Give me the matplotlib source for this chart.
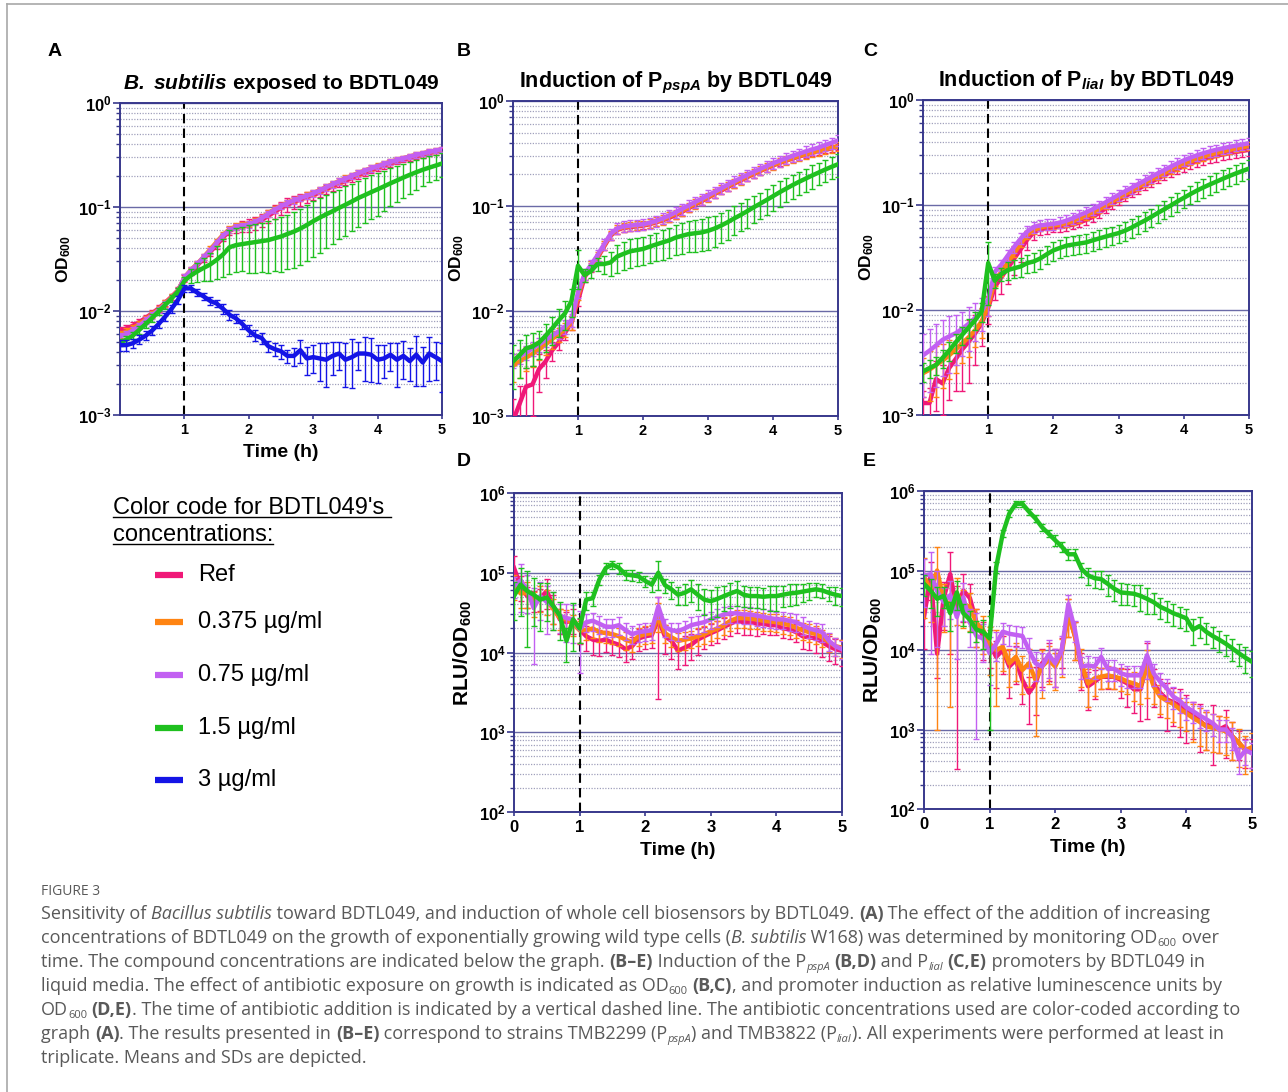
import numpy as np
import matplotlib
matplotlib.use('Agg')
import matplotlib.pyplot as plt
from matplotlib.ticker import LogLocator, FuncFormatter, NullFormatter
from matplotlib.lines import Line2D

plt.rcParams['font.family'] = ['Liberation Sans', 'DejaVu Sans']
plt.rcParams['mathtext.fontset'] = 'custom'
plt.rcParams['mathtext.rm'] = 'Liberation Sans'
plt.rcParams['mathtext.bf'] = 'Liberation Sans:bold'
plt.rcParams['mathtext.it'] = 'Liberation Sans:italic'
plt.rcParams['mathtext.bfit'] = 'Liberation Sans:bold:italic'
plt.rcParams['mathtext.sf'] = 'Liberation Sans'

# ---------------- data ----------------
time_h = np.linspace(0, 5, 51)

concentrations = ['Ref', '0.375 µg/ml', '0.75 µg/ml', '1.5 µg/ml', '3 µg/ml']
colors = ['#f01878', '#ff8412', '#c260f2', '#1fc01f', '#1414e6']

# Panel A: OD600, B. subtilis W168
A_ref = [.0065,.0068,.0072,.0078,.0086,.0095,.0106,.0120,.0137,.0158,
         .0205,.0240,.0275,.0320,.0370,.0430,.0510,.0590,.0630,.0650,
         .0670,.0700,.0750,.0820,.0900,.0980,.1050,.1120,.1180,.1240,
         .130,.138,.148,.158,.168,.178,.190,.202,.214,.226,
         .238,.250,.262,.274,.285,.296,.307,.318,.329,.340,.350]
A_ref_sd = [.08,.08,.08,.07,.07,.07,.07,.07,.07,.07,
            .08,.08,.08,.08,.08,.08,.08,.08,.10,.12,
            .15,.15,.15,.15,.15,.15,.15,.14,.13,.12,
            .10,.10,.09,.09,.08,.08,.08,.08,.07,.07,
            .07,.07,.07,.06,.06,.06,.06,.06,.06,.06,.06]
A_c0375 = [.0060,.0063,.0068,.0075,.0083,.0093,.0104,.0118,.0135,.0156,
           .0210,.0248,.0285,.0330,.0390,.0460,.0540,.0610,.0650,.0670,
           .0690,.0730,.0790,.0870,.0950,.1030,.1100,.1170,.1230,.1290,
           .136,.145,.155,.166,.177,.188,.200,.212,.224,.236,
           .248,.260,.272,.284,.295,.306,.317,.328,.338,.348,.358]
A_c0375_sd = [.08,.08,.08,.07,.07,.07,.07,.07,.07,.07,
              .07,.07,.07,.07,.07,.07,.07,.07,.07,.07,
              .07,.07,.07,.07,.07,.07,.07,.07,.07,.07,
              .07,.07,.07,.07,.07,.07,.07,.07,.07,.07,
              .06,.06,.06,.06,.06,.06,.06,.06,.06,.06,.06]
A_c075 = [.0057,.0060,.0065,.0072,.0081,.0091,.0102,.0116,.0133,.0155,
          .0210,.0245,.0282,.0330,.0380,.0450,.0530,.0600,.0640,.0660,
          .0680,.0720,.0780,.0860,.0940,.1020,.1090,.1160,.1220,.1280,
          .135,.144,.154,.165,.176,.187,.199,.211,.223,.235,
          .247,.259,.271,.283,.294,.305,.316,.327,.338,.348,.360]
A_c075_sd = [.08,.08,.08,.07,.07,.07,.07,.07,.07,.07,
             .07,.07,.07,.07,.07,.07,.07,.07,.07,.07,
             .07,.07,.07,.07,.07,.07,.07,.07,.07,.07,
             .07,.07,.07,.07,.07,.07,.07,.07,.07,.07,
             .06,.06,.06,.06,.06,.06,.06,.06,.06,.06,.06]
A_c15 = [.0050,.0053,.0058,.0066,.0075,.0086,.0099,.0114,.0132,.0154,
         .0195,.0220,.0240,.0260,.0280,.0310,.0350,.0410,.0430,.0440,
         .0450,.0460,.0470,.0480,.0500,.0520,.0550,.0580,.0620,.0670,
         .073,.079,.085,.091,.098,.105,.113,.122,.130,.139,
         .148,.158,.169,.180,.192,.204,.216,.228,.239,.250,.262]
A_c15_sd = [.08,.08,.08,.08,.08,.08,.08,.08,.08,.08,
            .10,.15,.20,.25,.30,.35,.40,.45,.45,.45,
            .48,.50,.50,.52,.52,.54,.54,.55,.55,.55,
            .55,.54,.53,.52,.50,.50,.48,.47,.46,.45,
            .45,.42,.40,.38,.36,.34,.32,.30,.28,.27,.26]
A_c3 = [.0047,.0047,.0049,.0053,.0058,.0065,.0075,.0088,.0105,.0128,
        .0165,.0165,.0150,.0138,.0125,.0118,.0105,.0092,.0085,.0075,
        .0065,.0058,.0055,.0046,.0043,.0041,.0037,.0037,.0042,.0035,
        .0036,.0035,.0034,.0037,.0039,.0034,.0036,.0039,.0039,.0038,
        .0034,.0035,.0038,.0034,.0037,.0033,.0038,.0032,.0039,.0036,.0033]
A_c3_sd = [.12,.12,.10,.10,.10,.10,.08,.08,.08,.08,
           .08,.08,.08,.08,.08,.08,.10,.10,.10,.10,
           .12,.12,.12,.12,.15,.15,.15,.20,.25,.30,
           .30,.40,.45,.35,.30,.45,.50,.30,.45,.45,
           .40,.35,.30,.45,.40,.35,.50,.40,.45,.40,.50]

# Panel B: OD600, P_pspA reporter strain
B_ref = [.0009,.0013,.0019,.0020,.0028,.0033,.0042,.0050,.0062,.0078,
         .0125,.0210,.0260,.0320,.0410,.0520,.0590,.0620,.0630,.0640,
         .0650,.0670,.0700,.0730,.0770,.0820,.0880,.0950,.1030,.1110,
         .120,.130,.140,.151,.163,.175,.188,.201,.215,.229,
         .243,.257,.270,.283,.296,.308,.320,.332,.343,.354,.365]
B_ref_sd = [.60,.50,.50,.50,.40,.30,.20,.15,.15,.15,
            .10,.10,.10,.08,.08,.08,.08,.08,.08,.08,
            .08,.08,.08,.08,.08,.08,.08,.08,.08,.08,
            .08,.08,.08,.08,.08,.08,.08,.08,.08,.08,
            .07,.07,.07,.07,.07,.07,.07,.07,.07,.07,.07]
B_c0375 = [.0030,.0033,.0036,.0039,.0043,.0048,.0054,.0060,.0067,.0078,
           .0140,.0220,.0270,.0330,.0420,.0530,.0600,.0630,.0640,.0650,
           .0660,.0680,.0710,.0740,.0790,.0840,.0900,.0970,.1050,.1130,
           .122,.132,.143,.154,.166,.178,.191,.204,.218,.232,
           .246,.260,.273,.286,.299,.311,.323,.335,.347,.358,.370]
B_c0375_sd = [.30,.30,.25,.25,.20,.20,.20,.15,.15,.15,
              .10,.10,.10,.10,.10,.10,.10,.10,.10,.10,
              .10,.10,.10,.10,.10,.10,.10,.10,.10,.10,
              .10,.10,.10,.10,.10,.10,.10,.10,.10,.10,
              .10,.10,.10,.10,.10,.10,.10,.10,.10,.10,.10]
B_c075 = [.0034,.0037,.0040,.0044,.0048,.0053,.0058,.0064,.0071,.0082,
          .0150,.0225,.0275,.0340,.0430,.0540,.0610,.0640,.0650,.0660,
          .0670,.0690,.0720,.0760,.0810,.0870,.0940,.1010,.1090,.1170,
          .126,.136,.147,.159,.171,.184,.197,.211,.225,.240,
          .255,.270,.285,.300,.315,.330,.345,.360,.380,.400,.420]
B_c075_sd = [.15,.15,.15,.15,.15,.15,.15,.15,.15,.15,
             .12,.12,.12,.12,.12,.12,.12,.12,.12,.12,
             .12,.12,.12,.12,.12,.12,.12,.12,.12,.12,
             .12,.12,.12,.12,.12,.12,.12,.12,.12,.12,
             .12,.12,.12,.12,.12,.12,.12,.12,.12,.12,.12]
B_c15 = [.0033,.0038,.0044,.0046,.0050,.0058,.0068,.0081,.0095,.0125,
         .0270,.0220,.0240,.0280,.0280,.0290,.0330,.0350,.0370,.0380,
         .0390,.0410,.0430,.0450,.0470,.0500,.0520,.0540,.0550,.0560,
         .058,.061,.065,.070,.076,.082,.089,.097,.105,.114,
         .124,.135,.146,.158,.170,.182,.195,.208,.222,.236,.250]
B_c15_sd = [.45,.40,.35,.35,.30,.30,.30,.30,.30,.30,
            .40,.15,.15,.15,.20,.25,.30,.30,.30,.30,
            .30,.30,.30,.32,.32,.32,.33,.33,.34,.34,
            .34,.33,.32,.32,.31,.30,.30,.29,.28,.28,
            .27,.27,.26,.26,.25,.25,.25,.24,.24,.24,.24]

# Panel C: OD600, P_liaI reporter strain
C_ref = [.0013,.0013,.0022,.0020,.0028,.0034,.0042,.0050,.0060,.0075,
         .0105,.0165,.0205,.0250,.0310,.0380,.0470,.0550,.0590,.0600,
         .0610,.0620,.0630,.0650,.0680,.0720,.0770,.0840,.0930,.1020,
         .112,.121,.131,.142,.154,.166,.179,.192,.206,.220,
         .234,.248,.261,.273,.284,.294,.303,.312,.320,.328,.335]
C_ref_sd = [.30,.40,.50,.50,.50,.50,.60,.60,.50,.40,
            .30,.25,.30,.30,.30,.25,.20,.15,.12,.12,
            .10,.10,.10,.10,.10,.10,.10,.10,.10,.10,
            .10,.10,.10,.10,.10,.10,.10,.10,.10,.10,
            .12,.12,.12,.12,.12,.12,.12,.12,.12,.12,.12]
C_c0375 = [.0025,.0027,.0030,.0033,.0037,.0042,.0048,.0055,.0064,.0078,
           .0110,.0190,.0230,.0280,.0350,.0430,.0520,.0580,.0610,.0630,
           .0640,.0650,.0670,.0700,.0740,.0780,.0840,.0910,.0990,.1080,
           .117,.127,.137,.149,.161,.174,.187,.201,.215,.230,
           .245,.260,.274,.288,.301,.313,.324,.335,.345,.355,.365]
C_c0375_sd = [.40,.50,.50,.45,.40,.40,.35,.35,.30,.30,
              .20,.10,.08,.08,.08,.08,.08,.08,.08,.08,
              .08,.08,.08,.08,.08,.08,.08,.08,.08,.08,
              .08,.08,.08,.08,.08,.08,.08,.08,.08,.08,
              .08,.08,.08,.08,.08,.08,.08,.08,.08,.08,.08]
C_c075 = [.0037,.0041,.0046,.0052,.0056,.0060,.0066,.0074,.0084,.0097,
          .0125,.0230,.0270,.0330,.0400,.0480,.0560,.0620,.0640,.0650,
          .0660,.0680,.0710,.0750,.0800,.0850,.0910,.0980,.1060,.1150,
          .125,.135,.146,.158,.171,.185,.200,.215,.232,.249,
          .266,.282,.297,.311,.324,.336,.347,.358,.368,.378,.388]
C_c075_sd = [.60,.60,.60,.55,.55,.50,.45,.45,.40,.35,
             .30,.12,.12,.12,.12,.12,.12,.12,.12,.12,
             .12,.12,.12,.12,.12,.12,.12,.12,.12,.12,
             .12,.12,.12,.12,.12,.12,.12,.12,.12,.12,
             .12,.12,.12,.12,.12,.12,.12,.12,.12,.12,.12]
C_c15 = [.0026,.0028,.0030,.0035,.0041,.0049,.0058,.0068,.0080,.0097,
         .0280,.0190,.0220,.0240,.0250,.0260,.0280,.0290,.0310,.0340,
         .0370,.0390,.0410,.0420,.0430,.0440,.0460,.0480,.0500,.0520,
         .054,.057,.061,.066,.071,.077,.084,.091,.099,.108,
         .117,.127,.137,.147,.157,.167,.178,.189,.200,.211,.222]
C_c15_sd = [.20,.20,.20,.20,.20,.20,.20,.20,.20,.20,
            .60,.15,.15,.20,.20,.20,.20,.20,.20,.20,
            .20,.20,.20,.20,.20,.20,.20,.20,.20,.20,
            .20,.20,.20,.20,.20,.20,.20,.20,.20,.20,
            .20,.20,.20,.20,.20,.20,.20,.20,.20,.20,.20]

# Panel D: RLU/OD600, P_pspA
D_ref = [1.15e5,6.8e4,5.1e4,4.6e4,4.8e4,5.9e4,3.8e4,2.6e4,2.4e4,2.6e4,
         1.95e4,1.6e4,1.45e4,1.4e4,1.45e4,1.33e4,1.25e4,1.1e4,1.2e4,1.5e4,
         1.6e4,1.65e4,2.6e4,1.6e4,1.4e4,1.05e4,1.15e4,1.25e4,1.45e4,1.6e4,
         1.75e4,1.9e4,2.1e4,2.3e4,2.5e4,2.4e4,2.4e4,2.3e4,2.3e4,2.2e4,
         2.2e4,2.0e4,1.95e4,1.8e4,1.6e4,1.55e4,1.5e4,1.35e4,1.2e4,1.1e4,1.05e4]
D_ref_sd = [.40,.35,.30,.30,.30,.40,.40,.35,.35,.35,
            .35,.35,.35,.35,.30,.30,.30,.30,.30,.30,
            .30,.30,.90,.40,.40,.40,.40,.35,.35,.30,
            .30,.30,.30,.30,.30,.30,.30,.30,.25,.25,
            .25,.25,.25,.25,.30,.30,.35,.35,.35,.35,.35]
D_c0375 = [7.0e4,5.5e4,5.6e4,4.3e4,5.0e4,4.5e4,3.5e4,2.7e4,2.6e4,2.3e4,
           1.9e4,1.9e4,2.0e4,1.8e4,1.75e4,1.7e4,1.6e4,1.45e4,1.35e4,1.6e4,
           1.7e4,1.75e4,3.0e4,1.75e4,1.55e4,1.4e4,1.45e4,1.5e4,1.6e4,1.7e4,
           1.85e4,2.0e4,2.2e4,2.5e4,2.7e4,2.7e4,2.65e4,2.6e4,2.5e4,2.45e4,
           2.4e4,2.3e4,2.2e4,2.05e4,1.9e4,1.8e4,1.7e4,1.55e4,1.35e4,1.2e4,1.15e4]
D_c0375_sd = [.35,.35,.35,.35,.35,.35,.35,.30,.30,.30,
              .30,.25,.25,.25,.25,.25,.25,.25,.25,.25,
              .25,.25,.40,.25,.25,.25,.25,.25,.25,.25,
              .25,.25,.25,.25,.25,.25,.25,.25,.25,.25,
              .25,.25,.25,.25,.25,.25,.25,.25,.25,.25,.25]
D_c075 = [6.8e4,8.0e4,6.2e4,3.6e4,5.1e4,4.3e4,3.8e4,2.9e4,2.7e4,2.6e4,
          1.95e4,2.4e4,2.5e4,2.3e4,2.1e4,2.1e4,2.2e4,1.9e4,1.7e4,1.8e4,
          1.85e4,1.9e4,3.8e4,2.1e4,1.9e4,1.85e4,2.0e4,2.2e4,2.3e4,2.4e4,
          2.6e4,2.8e4,3.0e4,3.1e4,3.1e4,3.0e4,3.0e4,2.9e4,2.8e4,2.7e4,
          2.6e4,2.6e4,2.5e4,2.4e4,2.2e4,2.0e4,1.9e4,1.8e4,1.4e4,1.2e4,1.1e4]
D_c075_sd = [.30,.60,.50,.80,.50,.60,.50,.40,.50,.50,
             .72,.25,.25,.25,.25,.25,.25,.25,.25,.25,
             .25,.25,.30,.25,.25,.25,.25,.25,.25,.25,
             .25,.25,.25,.25,.25,.25,.25,.25,.25,.25,
             .25,.25,.25,.25,.25,.25,.25,.25,.25,.25,.25]
D_c15 = [5.1e4,7.1e4,5.9e4,5.3e4,4.6e4,4.9e4,3.8e4,2.9e4,1.4e4,2.6e4,
         2.0e4,4.6e4,4.8e4,8.2e4,1.15e5,1.27e5,1.15e5,9.5e4,9.3e4,9.0e4,
         7.9e4,7.1e4,1.0e5,7.0e4,6.2e4,5.3e4,5.6e4,6.2e4,5.3e4,4.6e4,
         4.4e4,4.7e4,5.1e4,5.5e4,5.9e4,5.3e4,5.1e4,5.1e4,5.0e4,5.1e4,
         5.1e4,5.3e4,5.5e4,5.6e4,5.8e4,6.0e4,6.2e4,6.0e4,5.6e4,5.3e4,5.1e4]
D_c15_sd = [.50,.60,.80,.60,.60,.50,.50,.50,.45,.60,
            .35,.25,.20,.15,.15,.12,.15,.15,.15,.15,
            .15,.20,.40,.20,.25,.25,.30,.30,.35,.35,
            .40,.40,.35,.35,.35,.30,.30,.30,.30,.35,
            .35,.30,.30,.30,.25,.25,.20,.20,.20,.25,.25]

# Panel E: RLU/OD600, P_liaI
E_ref = [2.6e4,8.5e4,9.0e3,4.5e4,9.0e4,3.2e4,5.6e4,4.5e4,2.2e4,1.5e4,
         1.2e4,8.2e3,1.0e4,6.2e3,7.5e3,4.2e3,2.9e3,3.8e3,6.8e3,8.2e3,
         6.8e3,1.0e4,2.9e4,1.5e4,6.2e3,3.5e3,4.0e3,4.6e3,4.6e3,4.6e3,
         4.2e3,3.8e3,3.2e3,3.2e3,6.8e3,3.8e3,2.9e3,2.4e3,2.2e3,2.0e3,
         1.7e3,1.5e3,1.3e3,1.1e3,1.2e3,1.0e3,1.1e3,8.2e2,6.8e2,5.5e2,5.5e2]
E_ref_sd = [.60,.50,.50,.60,.90,.99,.60,.50,.50,.50,
            .50,.60,.50,.60,.50,.50,.60,.60,.50,.50,
            .50,.40,.50,.50,.50,.50,.40,.30,.30,.30,
            .40,.50,.50,.60,.80,.50,.50,.60,.50,.60,
            .60,.50,.60,.50,.70,.50,.60,.50,.40,.40,.40]
E_c0375 = [8.5e4,5.6e4,1.0e5,4.2e4,3.8e4,5.1e4,3.8e4,3.5e4,2.2e4,1.8e4,
           1.2e4,1.0e4,1.1e4,6.8e3,8.2e3,5.6e3,6.8e3,4.2e3,6.2e3,7.5e3,
           6.2e3,9.1e3,2.9e4,1.5e4,6.8e3,3.8e3,4.4e3,4.6e3,4.8e3,4.6e3,
           4.4e3,4.0e3,3.8e3,3.5e3,6.2e3,3.5e3,2.6e3,2.3e3,2.1e3,1.8e3,
           1.6e3,1.4e3,1.25e3,1.1e3,1.05e3,1.0e3,9.5e2,8.2e2,6.8e2,5.5e2,6.0e2]
E_c0375_sd = [.70,.60,.99,.60,.95,.60,.50,.50,.50,.50,
              .60,.80,.50,.50,.50,.50,.50,.80,.60,.50,
              .50,.50,.50,.50,.50,.50,.40,.30,.30,.30,
              .30,.30,.40,.40,.60,.40,.40,.40,.40,.40,
              .40,.50,.50,.50,.50,.50,.50,.50,.50,.50,.50]
E_c075 = [8.6e4,9.0e4,5.5e4,4.0e4,4.9e4,2.6e4,4.6e4,2.2e4,1.5e4,1.4e4,
          9.1e3,1.2e4,1.7e4,1.6e4,1.55e4,1.5e4,1.0e4,6.8e3,6.2e3,8.8e3,
          6.8e3,1.0e4,3.8e4,1.8e4,6.2e3,6.4e3,6.2e3,8.2e3,5.8e3,5.8e3,
          5.1e3,4.8e3,4.8e3,4.8e3,8.6e3,5.1e3,4.0e3,3.3e3,2.6e3,2.3e3,
          1.9e3,1.7e3,1.5e3,1.35e3,1.2e3,1.0e3,1.0e3,8.0e2,4.3e2,5.5e2,5.0e2]
E_c075_sd = [.60,.90,.80,.50,.50,.70,.50,.50,.95,.50,
             .60,.40,.30,.30,.30,.30,.40,.40,.50,.50,
             .50,.50,.30,.30,.30,.30,.30,.30,.30,.30,
             .30,.30,.30,.30,.50,.30,.30,.30,.30,.30,
             .30,.30,.30,.30,.30,.30,.30,.30,.35,.35,.35]
E_c15 = [6.8e4,5.6e4,4.4e4,4.8e4,2.9e4,5.3e4,2.9e4,2.4e4,1.8e4,1.7e4,
         1.4e4,1.1e5,2.9e5,5.2e5,6.9e5,6.9e5,5.5e5,4.5e5,3.5e5,2.9e5,
         2.4e5,2.0e5,1.6e5,1.6e5,1.05e5,8.7e4,8.0e4,7.8e4,6.8e4,5.9e4,
         5.3e4,5.2e4,5.1e4,4.8e4,4.4e4,4.0e4,3.5e4,3.2e4,2.9e4,2.7e4,
         2.5e4,1.8e4,2.0e4,1.7e4,1.5e4,1.35e4,1.2e4,1.05e4,9.1e3,8.0e3,7.1e3]
E_c15_sd = [.30,.40,.40,.30,.40,.40,.30,.30,.30,.40,
            .93,.15,.10,.10,.10,.10,.08,.10,.10,.10,
            .15,.15,.15,.15,.20,.25,.25,.25,.30,.30,
            .30,.30,.30,.35,.35,.30,.30,.30,.30,.30,
            .30,.35,.30,.30,.30,.30,.30,.30,.30,.35,.35]

# ---------------- figure ----------------
W, H = 1288, 1092
fig = plt.figure(figsize=(W / 100, H / 100), dpi=100)
fig.patch.set_facecolor('white')
renderer = fig.canvas.get_renderer()

NAVY = '#38388c'
GRIDMAJ = '#6a6aa6'
GRIDMIN = '#a0a0bc'


def fy(y):
    return 1 - y / H


def add_ax(l, t, r, b):
    return fig.add_axes([l / W, 1 - b / H, (r - l) / W, (b - t) / H])


def setup(ax, ylo, yhi, xticks):
    ax.set_yscale('log')
    ax.set_ylim(ylo, yhi)
    ax.set_xlim(0, 5)
    ax.yaxis.set_major_locator(LogLocator(base=10, numticks=12))
    ax.yaxis.set_minor_locator(LogLocator(base=10, subs=np.arange(2, 10), numticks=12))
    ax.yaxis.set_major_formatter(FuncFormatter(
        lambda v, p: r'$\mathbf{10^{%d}}$' % int(round(np.log10(v)))))
    ax.yaxis.set_minor_formatter(NullFormatter())
    ax.grid(which='major', axis='y', color=GRIDMAJ, lw=1.0, ls='-')
    ax.grid(which='minor', axis='y', color=GRIDMIN, lw=0.9, ls=(0, (1, 1.2)))
    ax.set_axisbelow(True)
    for s in ax.spines.values():
        s.set_color(NAVY)
        s.set_linewidth(1.4)
    ax.tick_params(axis='y', which='major', length=5, width=1.2, color=NAVY,
                   labelsize=12, pad=1)
    ax.tick_params(axis='y', which='minor', length=3, width=1.0, color=NAVY)
    ax.set_xticks(xticks)
    ax.set_xticklabels([str(v) for v in xticks], fontweight='bold')
    ax.tick_params(axis='x', length=3, width=1.2, color=NAVY, labelsize=10.5, pad=3)
    ax.axvline(1, color='black', ls=(0, (4.5, 2.5)), lw=1.5, zorder=2)


def series(ax, y, rsd, color, z):
    y = np.asarray(y, dtype=float)
    e = y * np.asarray(rsd, dtype=float)
    lo = np.minimum(e, y * 0.995)
    ax.errorbar(time_h, y, yerr=[lo, e], color=color, lw=3.2, elinewidth=1.0,
                capsize=2.4, capthick=1.0, zorder=z)


# Panel A
axA = add_ax(120, 103, 442, 415)
setup(axA, 1e-3, 1, [1, 2, 3, 4, 5])
for y, sd, c, z in [(A_ref, A_ref_sd, colors[0], 3), (A_c0375, A_c0375_sd, colors[1], 4),
                    (A_c075, A_c075_sd, colors[2], 5), (A_c15, A_c15_sd, colors[3], 6),
                    (A_c3, A_c3_sd, colors[4], 7)]:
    series(axA, y, sd, c, z)
axA.set_title(r'$\bfit{B.\ subtilis}$ exposed to BDTL049', fontsize=15,
              fontweight='bold', pad=10)
axA.set_ylabel(r'OD$_{\mathbf{600}}$', fontsize=12.5, fontweight='bold', labelpad=4)
axA.set_xlabel('Time (h)', fontsize=14, fontweight='bold', labelpad=5)

# Panel B
axB = add_ax(513, 101, 838, 416)
setup(axB, 1e-3, 1, [1, 2, 3, 4, 5])
for y, sd, c, z in [(B_ref, B_ref_sd, colors[0], 3), (B_c0375, B_c0375_sd, colors[1], 4),
                    (B_c075, B_c075_sd, colors[2], 5), (B_c15, B_c15_sd, colors[3], 6)]:
    series(axB, y, sd, c, z)
axB.set_title(r'Induction of $\mathbf{P}_{\bfit{pspA}}$ by BDTL049', fontsize=15.5,
              fontweight='bold', pad=10)
axB.set_ylabel(r'OD$_{\mathbf{600}}$', fontsize=12.5, fontweight='bold', labelpad=4)

# Panel C
axC = add_ax(923, 100, 1249, 415)
setup(axC, 1e-3, 1, [1, 2, 3, 4, 5])
for y, sd, c, z in [(C_ref, C_ref_sd, colors[0], 3), (C_c0375, C_c0375_sd, colors[1], 4),
                    (C_c075, C_c075_sd, colors[2], 5), (C_c15, C_c15_sd, colors[3], 6)]:
    series(axC, y, sd, c, z)
axC.set_title(r'Induction of $\mathbf{P}_{\bfit{liaI}}$ by BDTL049', fontsize=15.5,
              fontweight='bold', pad=10)
axC.set_ylabel(r'OD$_{\mathbf{600}}$', fontsize=12.5, fontweight='bold', labelpad=4)

# Panel D
axD = add_ax(514, 493, 842, 812)
setup(axD, 1e2, 1e6, [0, 1, 2, 3, 4, 5])
for y, sd, c, z in [(D_ref, D_ref_sd, colors[0], 3), (D_c0375, D_c0375_sd, colors[1], 4),
                    (D_c075, D_c075_sd, colors[2], 5), (D_c15, D_c15_sd, colors[3], 6)]:
    series(axD, y, sd, c, z)
axD.set_ylabel(r'RLU/OD$_{\mathbf{600}}$', fontsize=15, fontweight='bold', labelpad=3)
axD.set_xlabel('Time (h)', fontsize=14, fontweight='bold', labelpad=5)
axD.tick_params(axis='x', labelsize=12)

# Panel E
axE = add_ax(924, 491, 1252, 809)
setup(axE, 1e2, 1e6, [0, 1, 2, 3, 4, 5])
for y, sd, c, z in [(E_ref, E_ref_sd, colors[0], 3), (E_c0375, E_c0375_sd, colors[1], 4),
                    (E_c075, E_c075_sd, colors[2], 5), (E_c15, E_c15_sd, colors[3], 6)]:
    series(axE, y, sd, c, z)
axE.set_ylabel(r'RLU/OD$_{\mathbf{600}}$', fontsize=15, fontweight='bold', labelpad=3)
axE.set_xlabel('Time (h)', fontsize=14, fontweight='bold', labelpad=5)
axE.tick_params(axis='x', labelsize=12)

# Panel letters
for letter, x, y in [('A', 48, 52), ('B', 457, 52), ('C', 863, 52), ('D', 457, 461), ('E', 863, 461)]:
    fig.text(x / W, fy(y), letter, fontsize=14, fontweight='bold', va='center', ha='left')

# Legend (colour code)
for line_txt, yb in [("Color code for BDTL049's ", 514), ('concentrations:', 541)]:
    t = fig.text(113 / W, fy(yb), line_txt, fontsize=17, va='baseline', ha='left')
    bb = t.get_window_extent(renderer)
    fig.add_artist(Line2D([113 / W, (113 + bb.width) / W], [fy(yb + 3), fy(yb + 3)],
                          color='black', lw=1.0, transform=fig.transFigure))
for i, (lab, c) in enumerate(zip(concentrations, colors)):
    yc = [575, 622, 675, 728, 780][i]
    fig.add_artist(Line2D([155 / W, 183 / W], [fy(yc), fy(yc)], color=c, lw=4.5,
                          solid_capstyle='butt', transform=fig.transFigure))
    fig.text(198 / W, fy(yc), lab, fontsize=17, va='center', ha='left')

# Border lines
fig.add_artist(Line2D([7 / W, 1], [fy(3.5), fy(3.5)], color='#a8a8a8', lw=1.2,
                      transform=fig.transFigure))
fig.add_artist(Line2D([7 / W, 7 / W], [fy(3.5), 0], color='#a8a8a8', lw=1.2,
                      transform=fig.transFigure))

# Caption
CAP = '#595959'
CAPFS = 12.95
fam = ['Open Sans', 'DejaVu Sans']


def style_kw(st):
    kw = dict(family=fam, color=CAP, fontsize=CAPFS)
    if st == 'b':
        kw['fontweight'] = 'bold'
    if st in ('i', 'subi'):
        kw['fontstyle'] = 'italic'
    if st in ('sub', 'subi'):
        kw['fontsize'] = CAPFS * 0.62
    return kw


def text_width(s, kw):
    t1 = fig.text(0, 0, 'I' + s + 'I', **kw)
    w1 = t1.get_window_extent(renderer).width
    t1.remove()
    t2 = fig.text(0, 0, 'II', **kw)
    w2 = t2.get_window_extent(renderer).width
    t2.remove()
    return w1 - w2


def draw_runs(x, yb, runs):
    for s, st in runs:
        kw = style_kw(st)
        dy = 3 if st in ('sub', 'subi') else 0
        fig.text(x / W, fy(yb + dy), s, va='baseline', ha='left', **kw)
        x += text_width(s, kw)


fig.text(41 / W, fy(895), 'FIGURE 3', family=fam, color=CAP, fontsize=10,
         va='baseline', ha='left')

caption_lines = [
    [('Sensitivity of ', 'r'), ('Bacillus subtilis', 'i'),
     (' toward BDTL049, and induction of whole cell biosensors by BDTL049. ', 'r'),
     ('(A)', 'b'), (' The effect of the addition of increasing', 'r')],
    [('concentrations of BDTL049 on the growth of exponentially growing wild type cells (', 'r'),
     ('B. subtilis', 'i'), (' W168) was determined by monitoring OD', 'r'), ('600', 'sub'),
     (' over', 'r')],
    [('time. The compound concentrations are indicated below the graph. ', 'r'), ('(B\u2013E)', 'b'),
     (' Induction of the P', 'r'), ('pspA', 'subi'), (' ', 'r'), ('(B,D)', 'b'), (' and P', 'r'),
     ('liaI', 'subi'), (' ', 'r'), ('(C,E)', 'b'), (' promoters by BDTL049 in', 'r')],
    [('liquid media. The effect of antibiotic exposure on growth is indicated as OD', 'r'),
     ('600', 'sub'), (' ', 'r'), ('(B,C)', 'b'),
     (', and promoter induction as relative luminescence units by', 'r')],
    [('OD', 'r'), ('600', 'sub'), (' ', 'r'), ('(D,E)', 'b'),
     ('. The time of antibiotic addition is indicated by a vertical dashed line. '
      'The antibiotic concentrations used are color-coded according to', 'r')],
    [('graph ', 'r'), ('(A)', 'b'), ('. The results presented in ', 'r'), ('(B\u2013E)', 'b'),
     (' correspond to strains TMB2299 (P', 'r'), ('pspA', 'subi'), (') and TMB3822 (P', 'r'),
     ('liaI', 'subi'), ('). All experiments were performed at least in', 'r')],
    [('triplicate. Means and SDs are depicted.', 'r')],
]
for k, runs in enumerate(caption_lines):
    draw_runs(41, 919 + 24 * k, runs)

fig.savefig('out.png', dpi=100, facecolor='white')
